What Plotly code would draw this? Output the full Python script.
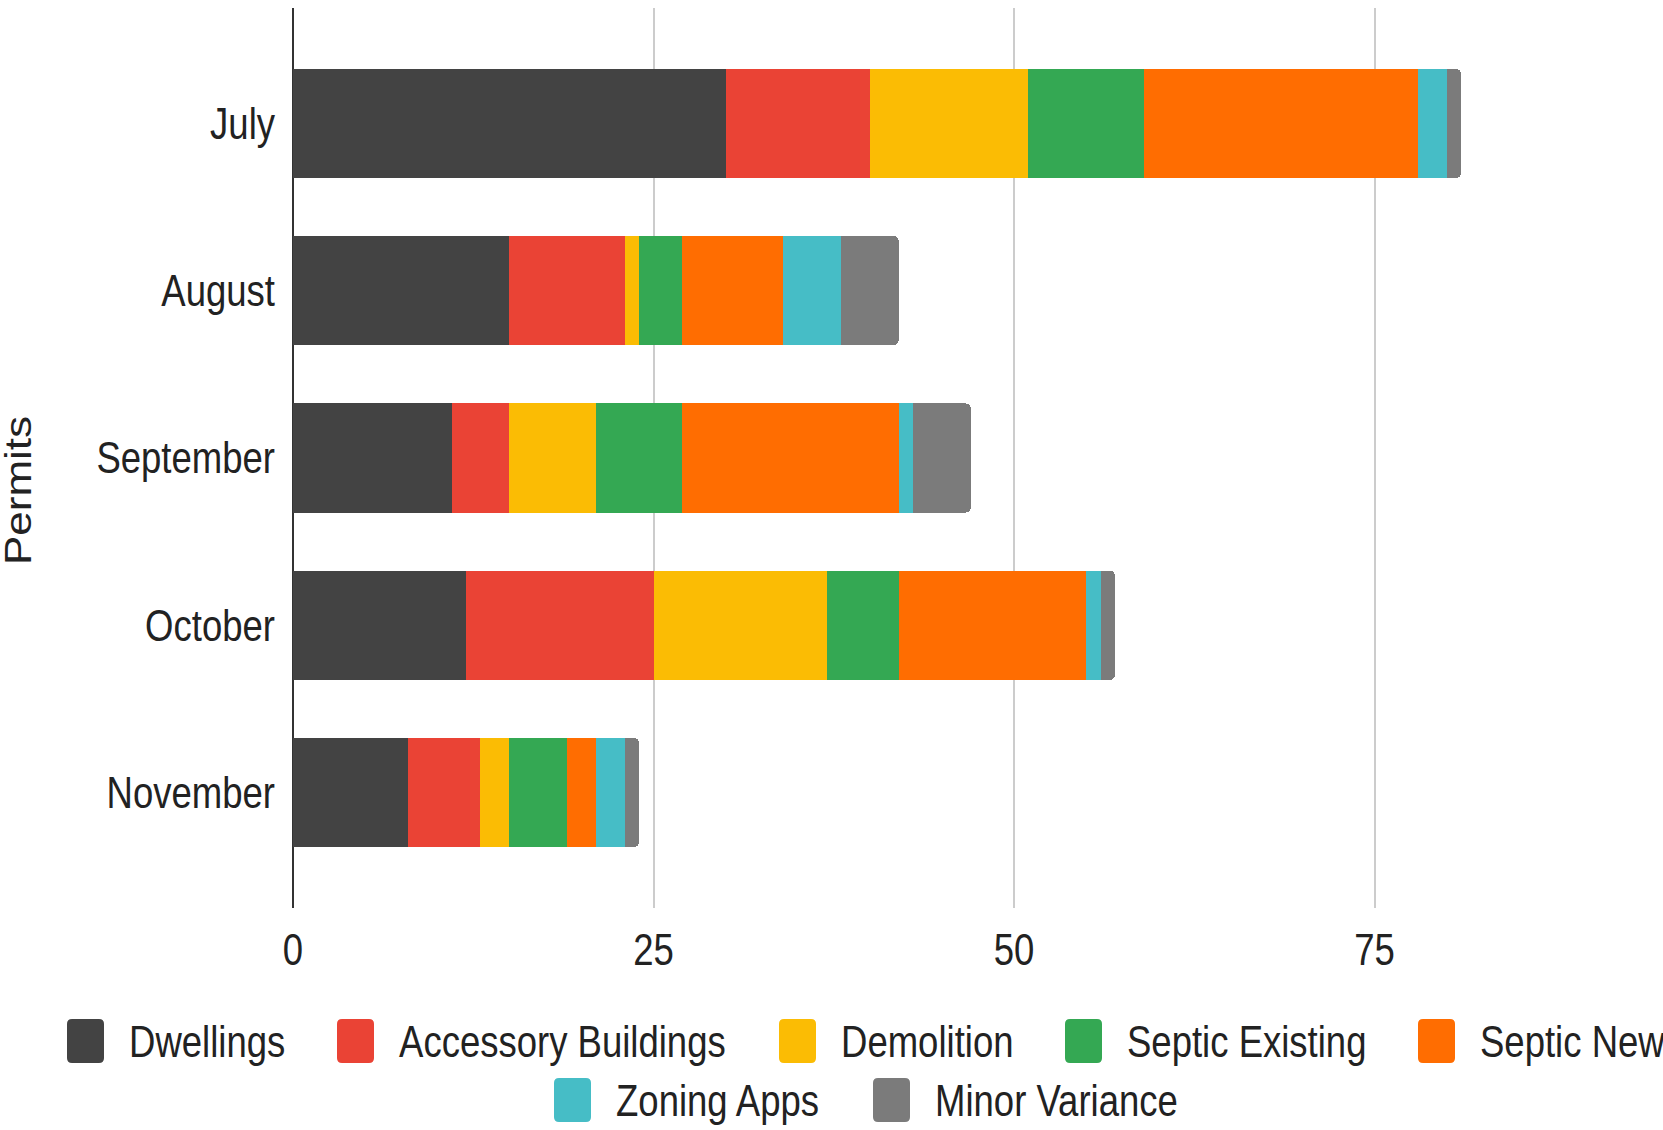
import plotly.graph_objects as go

# Monthly permit counts by type
months = ["July", "August", "September", "October", "November"]
series_names = ["Dwellings", "Accessory Buildings", "Demolition", "Septic Existing",
                "Septic New", "Zoning Apps", "Minor Variance"]
dwellings = [30, 15, 11, 12, 8]
accessory_buildings = [10, 8, 4, 13, 5]
demolition = [11, 1, 6, 12, 2]
septic_existing = [8, 3, 6, 5, 4]
septic_new = [19, 7, 15, 13, 2]
zoning_apps = [2, 4, 1, 1, 2]
minor_variance = [1, 4, 4, 1, 1]
x_ticks = [0, 25, 50, 75]

series_values = [dwellings, accessory_buildings, demolition, septic_existing,
                 septic_new, zoning_apps, minor_variance]
colors = ["#434343", "#EA4335", "#FBBC04", "#34A853", "#FF6D01", "#46BDC6", "#7B7B7B"]

W, H = 1663, 1130
ML, MR, MT, MB = 293, 0, 8, 222
PW, PH = W - ML - MR, H - MT - MB

FONT = "Liberation Sans, Arial, sans-serif"
FSIZE = 44
SQUEEZE = 0.83  # narrow the glyphs horizontally
TEXT = "#222222"


def px_x(px):
    return (px - ML) / PW


def px_y(py):
    return (H - MB - py) / PH


def rounded_rect(x0, y0, x1, y1, r):
    """Rounded rectangle path given in pixel coordinates (y down), output in paper coords."""
    X = px_x
    Y = px_y
    return (f"M {X(x0 + r)},{Y(y0)} L {X(x1 - r)},{Y(y0)} Q {X(x1)},{Y(y0)} {X(x1)},{Y(y0 + r)} "
            f"L {X(x1)},{Y(y1 - r)} Q {X(x1)},{Y(y1)} {X(x1 - r)},{Y(y1)} "
            f"L {X(x0 + r)},{Y(y1)} Q {X(x0)},{Y(y1)} {X(x0)},{Y(y1 - r)} "
            f"L {X(x0)},{Y(y0 + r)} Q {X(x0)},{Y(y0)} {X(x0 + r)},{Y(y0)} Z")


fig = go.Figure()
for name, vals, col in zip(series_names, series_values, colors):
    fig.add_trace(go.Bar(
        y=months, x=vals, name=name, orientation="h",
        marker=dict(color=col, line=dict(width=0)),
        showlegend=False,
    ))

# Custom legend: swatch left edges (px) per row
legend_rows = [
    (1041, [67, 337, 779, 1065, 1418], series_names[:5], colors[:5]),
    (1100, [554, 873], series_names[5:], colors[5:]),
]
shapes = []
annotations = []
for cy, lefts, names, cols in legend_rows:
    for left, name, col in zip(lefts, names, cols):
        shapes.append(dict(
            type="path", xref="paper", yref="paper",
            path=rounded_rect(left, cy - 22, left + 37, cy + 22, 5),
            fillcolor=col, line=dict(width=0),
        ))
        annotations.append(dict(
            x=px_x(left + 60), y=px_y(cy), xref="paper", yref="paper",
            text=name, showarrow=False, xanchor="left", yanchor="middle",
            font=dict(family=FONT, size=FSIZE, color=TEXT),
        ))

# Vertical axis title
annotations.append(dict(
    x=px_x(19), y=px_y(491), xref="paper", yref="paper",
    text="Permits", showarrow=False, textangle=-90,
    xanchor="center", yanchor="middle",
    font=dict(family=FONT, size=FSIZE, color=TEXT),
))

fig.update_layout(
    width=W, height=H,
    margin=dict(l=ML, r=MR, t=MT, b=MB, pad=0),
    paper_bgcolor="white", plot_bgcolor="white",
    barmode="stack", bargap=0.347, barcornerradius=5,
    shapes=shapes, annotations=annotations,
    xaxis=dict(
        range=[0, PW / 14.42], tickvals=x_ticks, ticktext=[str(v) for v in x_ticks],
        showgrid=True, gridcolor="#cccccc", gridwidth=2,
        zeroline=True, zerolinecolor="#333333", zerolinewidth=2,
        showline=False, ticks="", ticklabelstandoff=12, automargin=False,
        tickfont=dict(family=FONT, size=FSIZE, color=TEXT),
    ),
    yaxis=dict(
        type="category", categoryorder="array", categoryarray=months,
        range=[4.69, -0.69], showgrid=False, zeroline=False,
        showline=False, ticks="", ticklabelstandoff=17, automargin=False,
        tickfont=dict(family=FONT, size=FSIZE, color=TEXT),
    ),
    font=dict(family=FONT, color=TEXT),
)

# Narrow the text glyphs along the reading direction, keeping each label's anchor fixed
post_script = """
var gd = document.getElementById('{plot_id}');
var S = %s;
function squeeze(t, sx, sy, mode) {
  if (t.getAttribute('data-sq')) return;
  var b = t.getBBox();
  var cx = b.x + b.width / 2, cy = b.y + b.height / 2;
  if (mode === 'left') cx = b.x;
  if (mode === 'right') cx = b.x + b.width;
  var tr = t.getAttribute('transform') || '';
  t.setAttribute('transform', tr + ' translate(' + cx + ',' + cy + ') scale(' + sx + ',' + sy +
                 ') translate(' + (-cx) + ',' + (-cy) + ')');
  t.setAttribute('data-sq', '1');
}
gd.querySelectorAll('.xtick text').forEach(function (t) { squeeze(t, S, 1, 'center'); });
gd.querySelectorAll('.ytick text').forEach(function (t) { squeeze(t, S, 1, 'right'); });
gd.querySelectorAll('.annotation-text').forEach(function (t) {
  if (t.textContent === 'Permits') squeeze(t, 1, S, 'center');
  else squeeze(t, S, 1, 'left');
});
""" % SQUEEZE

fig.write_html("out.html", post_script=post_script)
